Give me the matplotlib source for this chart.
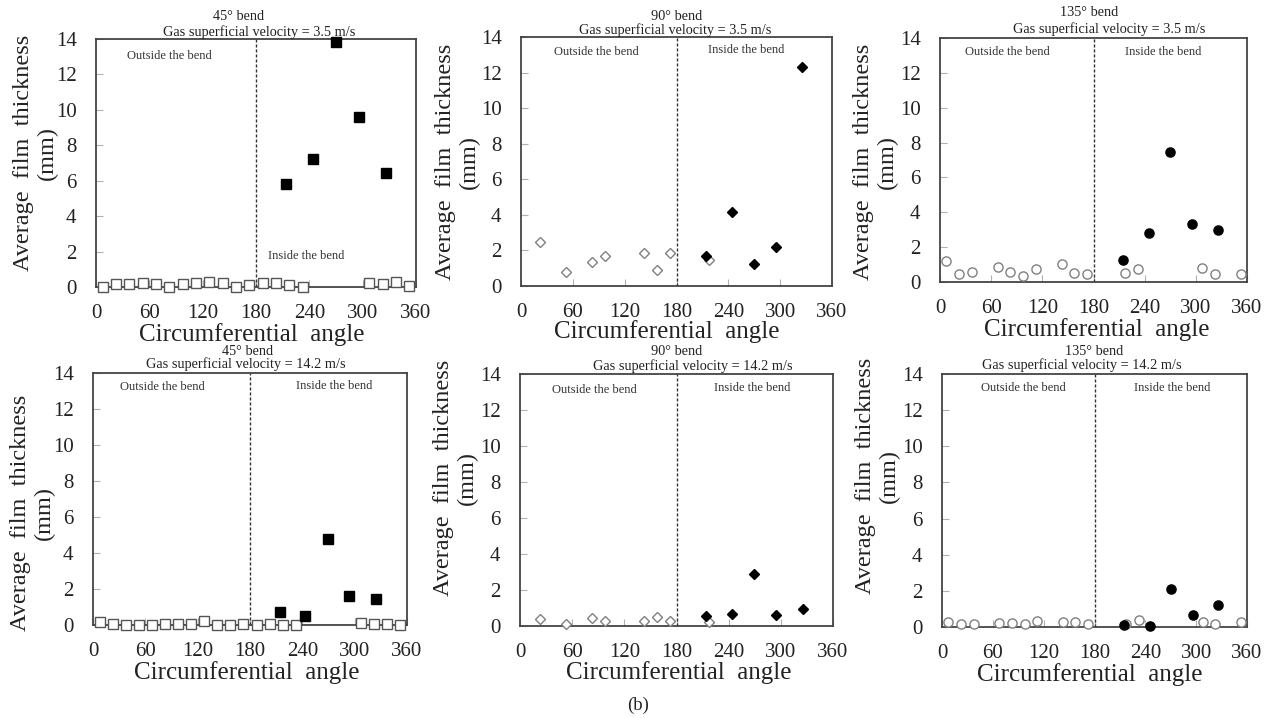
import matplotlib
matplotlib.use("Agg")
import matplotlib.pyplot as plt

plt.rcParams["font.family"] = ["Liberation Serif", "DejaVu Serif"]

# ---- data -------------------------------------------------------------
# Outside / low-film points (open markers), circumferential angle in degrees
sq_open_angles = [7.5, 22.5, 37.5, 52.5, 67.5, 82.5, 97.5, 112.5, 127.5, 142.5,
                  157.5, 172.5, 187.5, 202.5, 217.5, 232.5, 307.5, 322.5, 337.5, 352.5]
sq_open_low = [0.02, 0.15, 0.15, 0.2, 0.15, 0.02, 0.15, 0.2, 0.28, 0.2,
               0.02, 0.12, 0.2, 0.2, 0.1, 0.02, 0.25, 0.15, 0.28, 0.05]
sq_open_high = [0.19, 0.04, 0.02, 0.02, 0.02, 0.06, 0.04, 0.04, 0.25, 0.02,
                0.02, 0.04, 0.02, 0.08, 0.02, 0.0, 0.1, 0.04, 0.04, 0.02]

dm_open_angles = [22.5, 52.5, 82.5, 97.5, 142.5, 157.5, 172.5, 217.5]
dm_open_low = [2.45, 0.78, 1.33, 1.7, 1.87, 0.92, 1.88, 1.45]
dm_open_high = [0.41, 0.13, 0.46, 0.26, 0.26, 0.52, 0.26, 0.22]

ci_open_angles = [7.5, 22.5, 37.5, 67.5, 82.5, 97.5, 112.5, 142.5, 157.5, 172.5,
                  217.5, 232.5, 307.5, 322.5, 352.5]
ci_open_low = [1.23, 0.44, 0.58, 0.87, 0.6, 0.37, 0.77, 1.05, 0.52, 0.44,
               0.54, 0.75, 0.81, 0.44, 0.44]
ci_open_high = [0.3, 0.18, 0.18, 0.24, 0.2, 0.15, 0.35, 0.26, 0.3, 0.15,
                0.15, 0.39, 0.3, 0.15, 0.26]

# Inside-the-bend peaks (filled markers)
sq_fill_angles_low = [214, 244, 270, 296, 326]
sq_fill_low = [5.8, 7.25, 13.85, 9.6, 6.45]
sq_fill_angles_high = [214, 243, 269, 294, 325]
sq_fill_high = [0.75, 0.52, 4.8, 1.6, 1.45]

dm_fill_angles_low = [214, 244, 270, 295, 325]
dm_fill_low = [1.7, 4.17, 1.26, 2.18, 12.3]
dm_fill_angles_high = [214, 244, 269, 295, 325]
dm_fill_high = [0.54, 0.65, 2.88, 0.59, 0.93]

ci_fill_angles_low = [215, 245, 270, 296, 326]
ci_fill_low = [1.27, 2.82, 7.48, 3.32, 3.0]
ci_fill_angles_high = [215, 245, 270, 296, 326]
ci_fill_high = [0.09, 0.06, 2.1, 0.68, 1.24]

bend_labels = ["45\u00b0 bend", "90\u00b0 bend", "135\u00b0 bend"]
velocity_labels = ["Gas superficial velocity = 3.5 m/s",
                   "Gas superficial velocity = 14.2 m/s"]
x_ticks = [0, 60, 120, 180, 240, 300, 360]
y_ticks = [0, 2, 4, 6, 8, 10, 12, 14]

# ---- layout -----------------------------------------------------------
W, H = 1272, 718
fig = plt.figure(figsize=(W / 100, H / 100), dpi=100)

# axes boxes in pixels: left, top, right, bottom
boxes = [
    (96, 39, 416, 287), (521, 37, 832, 286), (940, 38, 1247, 282),
    (93, 373, 407, 625), (520, 374, 833, 626), (942, 374, 1247, 627),
]
# title line centres in pixels: (x1, y1, x2, y2)
title_pos = [
    (239, 17, 259, 32), (677, 17, 675, 30), (1089, 12, 1109, 29),
    (248, 352, 246, 364), (677, 352, 693, 366), (1094, 352, 1082, 365),
]
# y-label: right edge x, centre y (pixels)
ylab_pos = [(58, 153), (480, 162), (898, 162), (55, 513), (478, 478), (900, 476)]
# x-label centre (pixels)
xlab_pos = [(252, 335), (667, 332), (1097, 330), (247, 673), (679, 673), (1090, 675)]
# "Outside"/"Inside" label anchors in data units
region_text = [
    ((82, 13.06), (237, 1.75)), ((87.5, 13.16), (261, 13.25)),
    ((78.6, 13.2), (262, 13.2)), ((80, 13.2), (277, 13.3)),
    ((85, 13.1), (266.6, 13.2)), ((96.6, 13.2), (271.7, 13.2)),
]

panels = [
    (sq_open_angles, sq_open_low, sq_fill_angles_low, sq_fill_low, "s", 0, 0),
    (dm_open_angles, dm_open_low, dm_fill_angles_low, dm_fill_low, "D", 1, 0),
    (ci_open_angles, ci_open_low, ci_fill_angles_low, ci_fill_low, "o", 2, 0),
    (sq_open_angles, sq_open_high, sq_fill_angles_high, sq_fill_high, "s", 0, 1),
    (dm_open_angles, dm_open_high, dm_fill_angles_high, dm_fill_high, "D", 1, 1),
    (ci_open_angles, ci_open_high, ci_fill_angles_high, ci_fill_high, "o", 2, 1),
]

msize = {"s": 6.8, "D": 5.5, "o": 6.6}
open_edge = {"s": "#555555", "D": "#808080", "o": "#808080"}

for i, (oa, ov, fa, fv, mk, b, v) in enumerate(panels):
    l, t, r, btm = boxes[i]
    ax = fig.add_axes([l / W, 1 - btm / H, (r - l) / W, (btm - t) / H])
    ax.set_xlim(0, 360)
    ax.set_ylim(0, 14)
    ax.set_xticks(x_ticks)
    ax.set_yticks(y_ticks)
    ax.tick_params(direction="in", length=5, color="#b0b0b0", width=0.8,
                   labelsize=15, labelcolor="#222222")
    ax.tick_params(axis="x", pad=12)
    ax.tick_params(axis="y", pad=14)
    for sp in ax.spines.values():
        sp.set_color("#444444")
        sp.set_linewidth(1.3)

    ax.axvline(180, color="#333333", lw=1.0, ls=(0, (2.2, 1.4)))

    ax.plot(oa, ov, ls="none", marker=mk, ms=msize[mk], mfc="white",
            mec=open_edge[mk], mew=1.0, clip_on=False, zorder=3)
    ax.plot(fa, fv, ls="none", marker=mk, ms=msize[mk], mfc="black",
            mec="black", clip_on=False, zorder=4)

    (ox, oy), (ix, iy) = region_text[i]
    ax.text(ox, oy, "Outside the bend", fontsize=9, ha="center", va="center",
            color="#333333")
    ax.text(ix, iy, "Inside the bend", fontsize=9, ha="center", va="center",
            color="#333333")

    xlx, xly = xlab_pos[i]
    ax.set_xlabel("Circumferential  angle", fontsize=18, color="#222222")
    ax.xaxis.label.set_va("center")
    ax.xaxis.set_label_coords((xlx - l) / (r - l), (btm - xly) / (btm - t))

    ylx, yly = ylab_pos[i]
    ax.set_ylabel("Average  film  thickness\n(mm)", fontsize=17.5,
                  color="#222222", linespacing=1.15, multialignment="center")
    ax.yaxis.set_label_coords((ylx - l) / (r - l), (btm - yly) / (btm - t))

    x1, y1, x2, y2 = title_pos[i]
    fig.text(x1 / W, 1 - y1 / H, bend_labels[b], fontsize=10.3, ha="center",
             va="center", color="#222222")
    fig.text(x2 / W, 1 - y2 / H, velocity_labels[v], fontsize=10.3,
             ha="center", va="center", color="#222222")

fig.text(638 / W, 1 - 705 / H, "(b)", fontsize=13.5, ha="center", va="center",
         color="#222222")

fig.savefig("out.png", dpi=100, facecolor="white")
